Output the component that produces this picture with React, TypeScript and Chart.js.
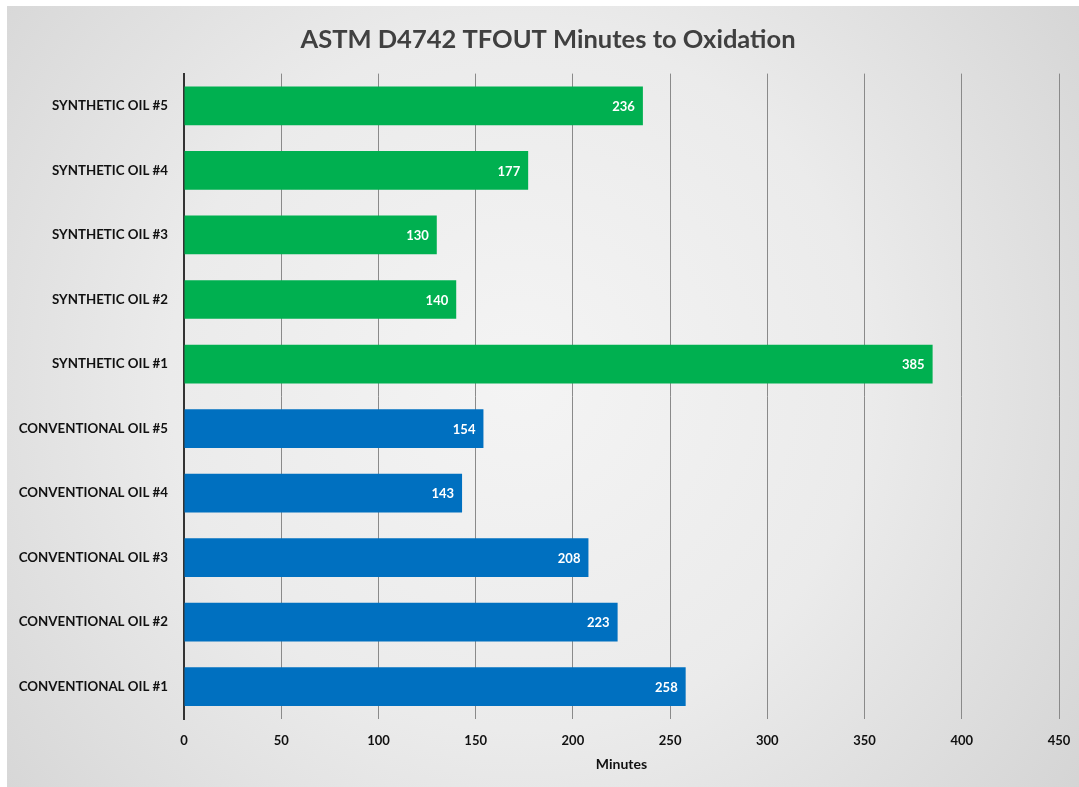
import React, { useEffect, useRef } from "react";
import { Chart, registerables } from "chart.js";

Chart.register(...registerables);

const categories = [
  "SYNTHETIC OIL #5",
  "SYNTHETIC OIL #4",
  "SYNTHETIC OIL #3",
  "SYNTHETIC OIL #2",
  "SYNTHETIC OIL #1",
  "CONVENTIONAL OIL #5",
  "CONVENTIONAL OIL #4",
  "CONVENTIONAL OIL #3",
  "CONVENTIONAL OIL #2",
  "CONVENTIONAL OIL #1",
];
const minutes = [236, 177, 130, 140, 385, 154, 143, 208, 223, 258];
const groups = ["syn", "syn", "syn", "syn", "syn", "conv", "conv", "conv", "conv", "conv"];
const groupColors: Record<string, string> = { syn: "#00b050", conv: "#0070c0" };
const xMin = 0;
const xMax = 450;
const xStep = 50;
const titleText = "ASTM D4742 TFOUT Minutes to Oxidation";
const xTitle = "Minutes";

const FONT = "Lato, 'Open Sans', sans-serif";

const bgPlugin = {
  id: "bgPlugin",
  beforeDraw(chart: any) {
    const { ctx, width, height } = chart;
    ctx.save();
    ctx.fillStyle = "#ffffff";
    ctx.fillRect(0, 0, width, height);
    const g = ctx.createRadialGradient(520, 380, 0, 520, 380, 700);
    g.addColorStop(0, "#f4f4f4");
    g.addColorStop(0.5, "#ebebeb");
    g.addColorStop(1, "#d4d4d4");
    ctx.fillStyle = g;
    ctx.fillRect(7, 6, width - 7, height - 6);
    ctx.restore();
  },
};

const labelPlugin = {
  id: "labelPlugin",
  afterDatasetsDraw(chart: any) {
    const { ctx } = chart;
    const meta = chart.getDatasetMeta(0);
    ctx.save();
    ctx.fillStyle = "#ffffff";
    ctx.font = `bold 13px ${FONT}`;
    ctx.textAlign = "right";
    ctx.textBaseline = "middle";
    meta.data.forEach((bar: any, i: number) => {
      ctx.fillText(String(minutes[i]), bar.x - 8, bar.y + 1);
    });
    ctx.restore();
  },
};

export default function App() {
  const ref = useRef<HTMLCanvasElement>(null);
  useEffect(() => {
    if (!ref.current) return;
    const chart = new Chart(ref.current, {
      type: "bar",
      data: {
        labels: categories,
        datasets: [
          {
            data: minutes,
            backgroundColor: groups.map((g) => groupColors[g]),
            borderWidth: 0,
            categoryPercentage: 1,
            barPercentage: 0.6,
          },
        ],
      },
      options: {
        indexAxis: "y",
        animation: false,
        responsive: false,
        maintainAspectRatio: false,
        layout: { padding: { left: 17, right: 0, top: 0, bottom: 0 } },
        plugins: {
          legend: { display: false },
          tooltip: { enabled: false },
          title: {
            display: true,
            text: titleText,
            color: "#404040",
            font: { family: FONT, size: 25.5, weight: "bold" },
            padding: { top: 24, bottom: 19 },
          },
        },
        scales: {
          x: {
            min: xMin,
            max: xMax,
            ticks: {
              stepSize: xStep,
              color: "#111111",
              font: { family: FONT, size: 13, weight: "bold" },
              padding: 14,
            },
            grid: {
              color: "#8a8a8a",
              lineWidth: 1,
              drawTicks: false,
            },
            border: { display: false },
            title: {
              display: true,
              text: xTitle,
              color: "#111111",
              font: { family: FONT, size: 14, weight: "bold" },
              padding: { top: 0, bottom: 14 },
            },
            afterFit(scale: any) {
              scale.height = 68;
              scale.paddingLeft = 0;
              scale.paddingRight = 20;
            },
          },
          y: {
            ticks: {
              color: "#111111",
              font: { family: FONT, size: 13.3, weight: "bold" },
              padding: 16,
            },
            grid: { display: false, drawTicks: false },
            border: { display: true, color: "#333333", width: 2 },
            afterFit(scale: any) {
              scale.width = 167;
            },
          },
        },
      },
      plugins: [bgPlugin, labelPlugin],
    });
    return () => chart.destroy();
  }, []);
  return (
    <div style={{ position: "fixed", left: 0, top: 0, width: 1079, height: 787 }}>
      <canvas ref={ref} width={1079} height={787} style={{ display: "block" }} />
    </div>
  );
}
